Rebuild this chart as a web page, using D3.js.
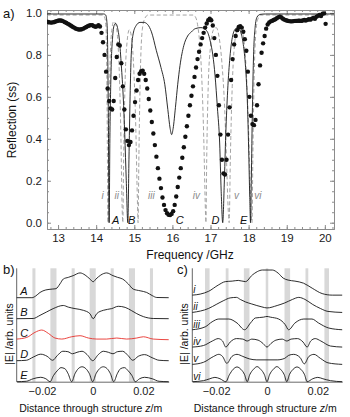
<!DOCTYPE html>
<html>
<head>
<meta charset="utf-8">
<script src="https://cdn.jsdelivr.net/npm/d3@7"></script>
<style>
  body { margin: 0; background: #fff; }
</style>
</head>
<body>
<div id="chart"></div>
<script>
// ---- panel a: measured reflection (dots), two simulations (solid, dashed) ----
const measured = [
  [12.70,.958],[12.74,.957],[12.78,.955],[12.82,.954],[12.86,.955],[12.90,.957],[12.94,.959],[12.98,.962],
  [13.02,.964],[13.06,.964],[13.10,.963],[13.14,.960],[13.18,.956],[13.22,.952],[13.26,.948],[13.30,.944],
  [13.34,.939],[13.38,.934],[13.42,.930],[13.46,.926],[13.50,.923],[13.54,.921],[13.58,.921],[13.62,.922],
  [13.66,.925],[13.70,.929],[13.74,.933],[13.78,.937],[13.82,.940],[13.86,.942],[13.90,.941],[13.94,.937],
  [13.98,.934],[14.02,.936],[14.06,.941],[14.10,.935],[14.14,.905],[14.18,.86],[14.22,.80],[14.26,.72],
  [14.30,.64],[14.34,.58],[14.38,.545],[14.42,.54],[14.46,.58],[14.50,.69],[14.54,.79],[14.58,.85],
  [14.62,.845],[14.66,.76],[14.70,.65],[14.74,.54],[14.78,.445],[14.82,.39],[14.86,.37],[14.90,.385],
  [14.94,.44],[14.98,.51],[15.02,.575],[15.06,.63],[15.10,.68],[15.14,.71],[15.18,.722],[15.22,.725],
  [15.26,.71],[15.30,.68],[15.34,.64],[15.38,.59],[15.42,.535],[15.46,.48],[15.50,.425],[15.54,.37],
  [15.58,.315],[15.62,.26],[15.66,.21],[15.70,.165],[15.74,.12],[15.78,.085],[15.82,.06],[15.86,.045],
  [15.90,.038],[15.94,.037],[15.98,.042],[16.02,.055],[16.06,.085],[16.10,.125],[16.14,.17],[16.18,.215],
  [16.22,.26],[16.26,.31],[16.30,.36],[16.34,.41],[16.38,.46],[16.42,.51],[16.46,.56],[16.50,.605],
  [16.54,.65],[16.58,.695],[16.62,.74],[16.66,.78],[16.70,.815],[16.74,.85],[16.78,.88],[16.82,.905],
  [16.86,.93],[16.90,.95],[16.94,.965],[16.98,.972],[17.02,.965],[17.06,.94],[17.10,.88],[17.14,.80],
  [17.18,.70],[17.22,.56],[17.26,.42],[17.30,.30],[17.34,.235],[17.38,.23],[17.42,.30],[17.46,.42],
  [17.50,.55],[17.54,.68],[17.58,.78],[17.62,.85],[17.66,.89],[17.70,.918],[17.74,.933],[17.78,.937],
  [17.82,.93],[17.86,.91],[17.90,.875],[17.94,.82],[17.98,.72],[18.02,.60],[18.06,.51],[18.10,.47],
  [18.14,.465],[18.18,.49],[18.22,.56],[18.26,.66],[18.30,.75],[18.34,.81],[18.38,.855],[18.42,.89],
  [18.46,.925],[18.50,.945],[18.54,.955],[18.58,.96],[18.62,.963],[18.66,.966],[18.70,.970],[18.74,.975],
  [18.78,.980],[18.82,.982],[18.86,.978],[18.90,.972],[18.94,.968],[18.98,.965],[19.02,.963],[19.06,.961],
  [19.10,.960],[19.14,.960],[19.18,.961],[19.22,.962],[19.26,.962],[19.30,.963],[19.34,.963],[19.38,.962],
  [19.42,.964],[19.46,.966],[19.50,.964],[19.54,.967],[19.58,.970],[19.62,.968],[19.66,.973],[19.70,.976],
  [19.74,.972],[19.78,.982],[19.82,.986],[19.86,.990],[19.90,.985],[19.94,.996],[19.98,.998],[20.02,.948]
];

const simSolid = [
  [12.70,.995],[14.20,.995],[14.25,.99],[14.28,.96],[14.30,.85],[14.32,.5],[14.34,0],[14.36,.4],
  [14.39,.72],[14.43,.88],[14.47,.94],[14.51,.95],[14.56,.93],[14.61,.87],[14.66,.75],[14.71,.6],
  [14.75,.42],[14.79,.2],[14.83,0],[14.86,.3],[14.89,.6],[14.92,.8],[14.97,.9],[15.05,.94],
  [15.15,.955],[15.25,.955],[15.35,.945],[15.45,.91],[15.58,.82],[15.70,.74],[15.80,.66],[15.88,.54],
  [15.94,.45],[15.98,.42],[16.02,.45],[16.08,.55],[16.14,.66],[16.20,.75],[16.30,.845],[16.40,.89],
  [16.50,.91],[16.60,.925],[16.75,.93],[16.90,.915],[17.00,.86],[17.06,.80],[17.12,.70],[17.18,.55],
  [17.24,.38],[17.28,.15],[17.32,0],[17.36,.18],[17.40,.42],[17.45,.63],[17.51,.79],[17.58,.89],
  [17.66,.925],[17.72,.93],[17.79,.91],[17.86,.85],[17.92,.74],[17.97,.56],[18.00,.36],[18.03,.12],
  [18.05,0],[18.07,.2],[18.10,.55],[18.13,.8],[18.17,.93],[18.22,.98],[18.30,.993],[18.45,.995],[20.24,.995]
];

const simDashed = [
  [12.70,.99],[14.18,.99],[14.23,.975],[14.26,.92],[14.28,.7],[14.30,.2],[14.31,0],[14.33,.35],
  [14.36,.72],[14.40,.9],[14.46,.96],[14.52,.94],[14.57,.86],[14.61,.7],[14.65,.4],[14.68,.08],
  [14.70,0],[14.72,.3],[14.76,.68],[14.81,.86],[14.87,.92],[14.93,.88],[14.99,.72],[15.04,.45],
  [15.08,.12],[15.10,0],[15.12,.3],[15.16,.72],[15.21,.92],[15.28,.975],[15.36,.99],[16.55,.99],
  [16.62,.975],[16.68,.92],[16.74,.8],[16.79,.6],[16.83,.35],[16.86,.1],[16.88,0],[16.90,.3],
  [16.94,.65],[17.00,.84],[17.08,.92],[17.15,.93],[17.22,.89],[17.30,.76],[17.37,.55],[17.42,.3],
  [17.46,.08],[17.49,0],[17.52,.3],[17.57,.65],[17.63,.85],[17.70,.92],[17.77,.935],[17.85,.9],
  [17.92,.78],[17.98,.55],[18.03,.25],[18.07,.03],[18.09,0],[18.11,.3],[18.14,.65],[18.18,.88],
  [18.24,.97],[18.32,.99],[20.24,.99]
];

const freqTicks = [13, 14, 15, 16, 17, 18, 19, 20];
const reflTicks = [0, 0.2, 0.4, 0.6, 0.8, 1.0];
const modeNames = ["A", "B", "C", "D", "E"];
const modeLabelFreq = [14.51, 14.93, 16.19, 17.13, 17.87];
const romanNames = ["i", "ii", "iii", "iv", "v", "vi"];
const romanLabelFreq = [14.17, 14.54, 15.45, 16.63, 17.68, 18.24];

// ---- panel b: field profiles A..E ----
const distTicks = [-0.02, 0, 0.02];
const bandCentersB = [-0.0232, -0.0155, -0.0077, 0, 0.0077, 0.0155, 0.0232];
const bandWidthsB  = [0.0012, 0.0024, 0.0012, 0.0024, 0.0012, 0.0024, 0.0012];
const offsetsB = [4, 3, 2, 1, 0];
const profA = [[-0.03,0],[-0.024,0],[-0.0225,.08],[-0.0208,.25],[-0.0185,.37],[-0.016,.41],[-0.0145,.43],
  [-0.0129,.66],[-0.0116,.89],[-0.0096,.97],[-0.0077,1.05],[-0.005,1.18],[-0.003,1.08],[-0.0011,.89],
  [0.0002,.76],[0.0013,.89],[0.0032,1.08],[0.0055,1.18],[0.008,1.05],[0.0098,.97],[0.0118,.89],
  [0.0141,.65],[0.016,.41],[0.0187,.33],[0.0213,.25],[0.0235,.1],[0.0253,.01],[0.03,0]];
const profB = [[-0.03,0],[-0.0235,.01],[-0.0208,.16],[-0.0182,.32],[-0.0156,.48],[-0.0116,.63],
  [-0.0096,.55],[-0.007,.48],[-0.0037,.40],[-0.0011,.24],[0.0002,0],[0.0016,.24],[0.0042,.40],
  [0.0075,.48],[0.0101,.59],[0.0128,.54],[0.0154,.38],[0.0174,.24],[0.02,.1],[0.0239,.01],[0.03,0]];
const profC = [[-0.03,.03],[-0.026,.11],[-0.0228,.35],[-0.0201,.46],[-0.0175,.30],[-0.0149,.08],
  [-0.0122,.03],[-0.0083,.14],[-0.005,.19],[-0.0017,.08],[0.0016,.03],[0.0055,.03],[0.0095,.08],
  [0.0134,.03],[0.0174,.08],[0.02,.14],[0.0239,.03],[0.03,0]];
const profD = [[-0.03,0],[-0.0262,.02],[-0.0235,.17],[-0.0205,.31],[-0.018,.21],[-0.0158,.02],
  [-0.014,.24],[-0.0118,.45],[-0.0098,.43],[-0.008,.33],[-0.0062,.40],[-0.0042,.45],[-0.0022,.29],
  [0,0],[0.0022,.29],[0.0042,.45],[0.0062,.40],[0.008,.33],[0.0098,.43],[0.0118,.45],[0.014,.24],
  [0.0158,.02],[0.018,.21],[0.0205,.29],[0.0235,.14],[0.0262,.02],[0.03,0]];
const profE = [[-0.03,0],[-0.0262,.02],[-0.0235,.14],[-0.0205,.21],[-0.0185,.14],[-0.0168,0],
  [-0.0155,.29],[-0.014,.52],[-0.0125,.67],[-0.011,.62],[-0.0097,.38],[-0.0083,0],[-0.007,.38],
  [-0.0057,.62],[-0.0042,.71],[-0.0027,.62],[-0.0013,.38],[0,0],[0.0013,.38],[0.0027,.62],
  [0.0042,.71],[0.0057,.62],[0.007,.38],[0.0083,0],[0.0097,.38],[0.011,.62],[0.0125,.67],
  [0.014,.52],[0.0155,.29],[0.0168,0],[0.0185,.14],[0.0205,.21],[0.0235,.14],[0.0262,.02],[0.03,0]];

// ---- panel c: field profiles i..vi ----
const bandCentersC = [-0.0235, -0.0157, -0.008, 0, 0.008, 0.0157, 0.0235];
const bandWidthsC  = [0.0018, 0.0011, 0.0022, 0.0010, 0.0022, 0.0011, 0.0018];
const offsetsC = [5, 4, 3, 2, 1, 0];
const prof_i = [[-0.0294,0],[-0.0263,.06],[-0.023,.22],[-0.0192,.58],[-0.0164,.78],[-0.0137,.81],
  [-0.0113,.85],[-0.0085,.78],[-0.0058,1.16],[-0.0038,1.36],[-0.0018,1.45],[0,1.45],[0.0021,1.45],
  [0.0044,1.27],[0.0064,.98],[0.0083,.87],[0.011,.81],[0.0144,.69],[0.0178,.40],[0.0217,.09],
  [0.0257,0],[0.0296,0]];
const prof_ii = [[-0.0294,0],[-0.023,.23],[-0.02,.46],[-0.017,.69],[-0.0145,.84],[-0.012,.87],
  [-0.0105,.75],[-0.0085,.61],[-0.006,.49],[-0.002,.32],[0,.26],[0.004,.40],[0.007,.55],[0.01,.75],
  [0.0125,.87],[0.015,.75],[0.018,.46],[0.021,.23],[0.024,.06],[0.0296,0]];
const prof_iii = [[-0.0294,0],[-0.0243,.17],[-0.0216,.46],[-0.019,.62],[-0.015,.62],[-0.0118,.39],
  [-0.0088,0],[-0.0065,.39],[-0.0046,.68],[-0.0013,.73],[0,.77],[0.0013,.73],[0.0046,.62],
  [0.0072,.29],[0.0085,0],[0.011,.39],[0.0145,.62],[0.0177,.62],[0.0203,.39],[0.0243,.10],[0.0296,0]];
const prof_iv = [[-0.0294,0],[-0.025,.09],[-0.0215,.35],[-0.0192,.49],[-0.0175,.35],[-0.0162,0],
  [-0.0145,.29],[-0.012,.49],[-0.0095,.46],[-0.0078,.35],[-0.006,.46],[-0.0035,.40],[-0.0015,.20],
  [0,0],[0.0015,.20],[0.0035,.40],[0.006,.46],[0.0078,.35],[0.0095,.46],[0.012,.49],[0.0142,.29],
  [0.0158,0],[0.0172,.35],[0.019,.49],[0.0212,.35],[0.025,.06],[0.0296,0]];
const prof_v = [[-0.0294,0],[-0.025,.12],[-0.021,.46],[-0.019,.58],[-0.0175,.46],[-0.0158,.06],
  [-0.0138,.46],[-0.0118,.58],[-0.0095,.46],[-0.007,.32],[-0.004,.26],[0,.26],[0.004,.26],
  [0.007,.35],[0.0085,.52],[0.0105,.58],[0.013,.40],[0.0147,.03],[0.0165,.46],[0.0185,.58],
  [0.021,.35],[0.024,.09],[0.0296,0]];
const prof_vi = [[-0.0294,0],[-0.025,.06],[-0.0225,.17],[-0.0205,.25],[-0.0185,.17],[-0.0162,0],
  [-0.0148,.40],[-0.0133,.72],[-0.0118,.85],[-0.0103,.72],[-0.0088,.40],[-0.0078,0],[-0.0068,.40],
  [-0.0053,.72],[-0.0039,.87],[-0.0025,.72],[-0.001,.40],[0,0],[0.001,.40],[0.0025,.72],
  [0.0039,.87],[0.0053,.72],[0.0068,.40],[0.0078,0],[0.0088,.40],[0.0103,.72],[0.0118,.85],
  [0.0133,.72],[0.0148,.40],[0.0158,0],[0.018,.17],[0.02,.25],[0.022,.17],[0.025,.06],[0.0296,0]];

const FONT = "'Liberation Sans', Arial, Helvetica, sans-serif";
const frameCol = "#8c8c8c";

const svg = d3.select("#chart").append("svg")
  .attr("width", 350).attr("height", 417)
  .style("font-family", FONT);

// ================= panel a =================
const xA = d3.scaleLinear().domain([12.71, 20.24]).range([47, 334]);
const yA = d3.scaleLinear().domain([-0.03, 1.014]).range([229, 10]);

const styleAxis = (g, size) => {
  g.select(".domain").attr("stroke", frameCol);
  g.selectAll(".tick line").attr("stroke", frameCol);
  g.selectAll("text").attr("fill", "#1a1a1a").style("font-size", size + "px").style("font-family", FONT);
};

const freqMinor = d3.range(12.8, 20.21, 0.2);
const reflMinor = d3.range(0, 1.001, 0.05);

// minor ticks first, then majors with labels
[["bottom", 229], ["top", 10]].forEach(([side, y]) => {
  const mk = side === "bottom" ? d3.axisBottom : d3.axisTop;
  svg.append("g").attr("transform", `translate(0,${y})`)
    .call(mk(xA).tickValues(freqMinor).tickSize(-2).tickSizeOuter(0).tickFormat(""))
    .call(g => styleAxis(g, 11));
  svg.append("g").attr("transform", `translate(0,${y})`)
    .call(mk(xA).tickValues(freqTicks).tickSize(-4).tickSizeOuter(0).tickPadding(5)
      .tickFormat(side === "bottom" ? d3.format("d") : ""))
    .call(g => styleAxis(g, 11.5));
});
[["left", 47], ["right", 334]].forEach(([side, x]) => {
  const mk = side === "left" ? d3.axisLeft : d3.axisRight;
  svg.append("g").attr("transform", `translate(${x},0)`)
    .call(mk(yA).tickValues(reflMinor).tickSize(-2).tickSizeOuter(0).tickFormat(""))
    .call(g => styleAxis(g, 11));
  svg.append("g").attr("transform", `translate(${x},0)`)
    .call(mk(yA).tickValues(reflTicks).tickSize(-4).tickSizeOuter(0).tickPadding(5)
      .tickFormat(side === "left" ? d3.format(".1f") : ""))
    .call(g => styleAxis(g, 11.5));
});

svg.append("clipPath").attr("id", "clipA").append("rect")
  .attr("x", 47).attr("y", 10).attr("width", 287).attr("height", 219);

const lineA = d3.line()
  .x(d => xA(d[0])).y(d => yA(d[1]))
  .curve(d3.curveMonotoneX);

const plotA = svg.append("g").attr("clip-path", "url(#clipA)");

plotA.append("path").datum(simDashed)
  .attr("fill", "none").attr("stroke", "#9a9a9a").attr("stroke-width", 0.9)
  .attr("stroke-dasharray", "4,2.5").attr("d", lineA);

plotA.append("path").datum(simSolid)
  .attr("fill", "none").attr("stroke", "#151515").attr("stroke-width", 0.9)
  .attr("d", lineA);

plotA.selectAll("circle").data(measured).join("circle")
  .attr("cx", d => xA(d[0])).attr("cy", d => yA(d[1]))
  .attr("r", 2.2).attr("fill", "#111");

svg.selectAll("text.mode").data(modeNames).join("text")
  .attr("class", "mode")
  .attr("x", (d, i) => xA(modeLabelFreq[i])).attr("y", yA(0.0) + 1)
  .attr("text-anchor", "middle").attr("font-style", "italic")
  .attr("font-size", 11).attr("fill", "#111").text(d => d);

svg.selectAll("text.roman").data(romanNames).join("text")
  .attr("class", "roman")
  .attr("x", (d, i) => xA(romanLabelFreq[i])).attr("y", yA(0.115))
  .attr("text-anchor", "middle").attr("font-style", "italic")
  .attr("font-size", 10).attr("fill", "#8a8a8a").text(d => d);

svg.append("text").attr("x", 3).attr("y", 18).attr("font-size", 13).attr("fill", "#111").text("a)");
svg.append("text")
  .attr("transform", "translate(16,120) rotate(-90)")
  .attr("text-anchor", "middle").attr("font-size", 12).attr("fill", "#111")
  .text("Reflection (ss)");
svg.append("text").attr("x", 190).attr("y", 259)
  .attr("text-anchor", "middle").attr("font-size", 12).attr("fill", "#111")
  .text("Frequency /GHz");

// ================= panels b and c =================
const drawProfiles = (cfg) => {
  const xs = d3.scaleLinear().domain(cfg.zDomain).range(cfg.xRange);
  const ys = d3.scaleLinear().domain(cfg.yDomain).range([381.7, 268.3]);
  const g = svg.append("g");

  g.selectAll("rect").data(cfg.bandCenters).join("rect")
    .attr("x", (d, i) => xs(d - cfg.bandWidths[i] / 2))
    .attr("width", (d, i) => xs(d + cfg.bandWidths[i] / 2) - xs(d - cfg.bandWidths[i] / 2))
    .attr("y", ys.range()[1]).attr("height", ys.range()[0] - ys.range()[1])
    .attr("fill", "#d8d8d8");

  g.append("line")
    .attr("x1", cfg.xRange[0]).attr("x2", cfg.xRange[0])
    .attr("y1", ys.range()[1]).attr("y2", ys.range()[0])
    .attr("stroke", "#555").attr("stroke-width", 0.9);

  g.append("g").attr("transform", `translate(0,${ys.range()[0]})`)
    .call(d3.axisBottom(xs).tickValues(distTicks).tickSize(0).tickPadding(6)
      .tickFormat(d => d === 0 ? "0" : d3.format(".2f")(d)))
    .call(a => {
      a.select(".domain").attr("stroke", "#444").attr("stroke-width", 0.8);
      a.selectAll("text").attr("fill", "#1a1a1a").style("font-size", "11px").style("font-family", FONT);
    });

  cfg.curves.forEach((c, i) => {
    const off = cfg.offsets[i];
    const line = d3.line()
      .x(d => xs(d[0])).y(d => ys(d[1] + off))
      .curve(d3.curveMonotoneX);
    g.append("path").datum(c)
      .attr("fill", "none").attr("stroke", cfg.colors[i])
      .attr("stroke-width", 0.9).attr("d", line);
    g.append("text")
      .attr("x", cfg.xRange[0] + cfg.labelDx).attr("y", ys(off) - cfg.labelDy)
      .attr("font-style", "italic").attr("font-size", cfg.labelSize)
      .attr("fill", "#111").text(cfg.names[i]);
  });

  g.append("text").attr("x", cfg.tagX).attr("y", 274)
    .attr("font-size", 13).attr("fill", "#111").text(cfg.tag);

  g.append("text")
    .attr("transform", `translate(${cfg.xRange[0] - 4},334) rotate(-90)`)
    .attr("text-anchor", "middle").attr("font-size", 10.5).attr("fill", "#111")
    .text("|E| /arb. units");

  const t = g.append("text")
    .attr("x", (cfg.xRange[0] + cfg.xRange[1]) / 2 - 2).attr("y", 412)
    .attr("text-anchor", "middle").attr("font-size", 10.5).attr("fill", "#111");
  t.append("tspan").text("Distance through structure ");
  t.append("tspan").attr("font-style", "italic").text("z");
  t.append("tspan").text("/m");
};

drawProfiles({
  tag: "b)", tagX: 3,
  zDomain: [-0.03, 0.03], xRange: [16.7, 168.7], yDomain: [0, 5.4],
  bandCenters: bandCentersB, bandWidths: bandWidthsB,
  curves: [profA, profB, profC, profD, profE], offsets: offsetsB,
  names: modeNames, colors: ["#151515", "#151515", "#e8322c", "#151515", "#151515"],
  labelDx: 3.5, labelDy: 3, labelSize: 11
});

drawProfiles({
  tag: "c)", tagX: 177,
  zDomain: [-0.0294, 0.0296], xRange: [192.3, 342.2], yDomain: [0, 6.55],
  bandCenters: bandCentersC, bandWidths: bandWidthsC,
  curves: [prof_i, prof_ii, prof_iii, prof_iv, prof_v, prof_vi], offsets: offsetsC,
  names: romanNames, colors: Array(6).fill("#151515"),
  labelDx: 1, labelDy: 2, labelSize: 10
});
</script>
</body>
</html>
